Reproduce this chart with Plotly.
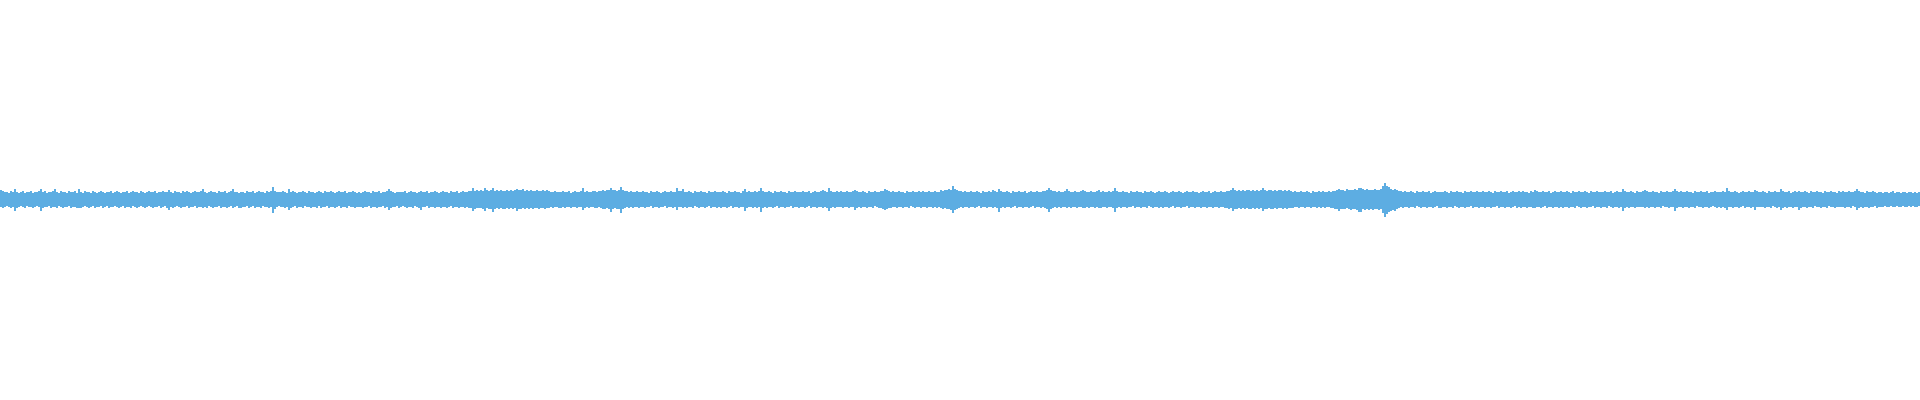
import plotly.graph_objects as go

# Waveform peak envelope, one sample per 2 screen columns.
# upper = peak above the zero line, lower = peak below the zero line (same units as the y axis).
upper = [
    9,8,7,7,6,8,7,10,7,6,7,8,6,7,7,8,6,7,7,8,
    10,7,8,6,7,7,8,10,7,6,8,7,7,6,8,7,7,8,6,10,
    7,6,8,7,7,6,8,7,6,7,8,7,6,7,7,8,6,7,8,7,
    6,7,7,8,6,7,8,7,7,6,8,7,6,7,8,7,7,8,6,7,
    7,8,7,7,9,7,6,8,7,7,6,8,7,8,7,6,7,8,7,7,
    8,10,7,6,7,8,7,7,6,8,7,7,8,6,7,8,10,7,7,6,
    7,7,6,8,7,7,8,6,7,8,7,7,6,8,7,8,12,8,7,7,
    7,8,7,6,10,7,8,7,6,7,7,8,7,6,8,7,7,6,7,8,
    7,6,8,7,7,8,7,6,7,8,7,7,8,6,7,7,8,7,6,7,
    6,7,8,7,7,6,8,7,7,8,6,7,7,8,10,8,7,6,7,7,
    7,7,8,6,7,8,7,7,6,7,8,7,7,8,6,7,7,8,7,6,
    7,8,7,7,6,8,7,7,8,6,7,8,7,7,8,8,11,8,9,8,
    9,8,11,9,8,9,11,8,9,8,9,8,8,9,8,9,8,9,10,9,
    9,10,8,9,8,9,8,8,9,8,8,9,8,9,8,7,7,8,7,7,
    7,8,7,7,8,6,7,8,7,7,8,11,7,8,7,7,8,8,7,8,
    8,9,8,9,9,11,9,9,8,9,12,9,8,8,7,8,7,7,8,7,
    7,8,7,7,6,8,7,7,8,7,6,7,8,7,7,8,7,7,11,8,
    8,10,7,7,8,7,6,8,7,7,8,7,7,6,8,7,7,8,7,7,
    7,8,7,6,8,7,7,8,7,7,6,8,10,7,8,7,7,8,7,8,
    11,8,7,7,8,7,6,8,7,7,8,7,7,6,8,7,7,8,7,7,
    7,8,7,7,8,6,7,8,7,7,8,9,8,7,11,8,7,7,8,7,
    8,7,7,8,7,7,8,9,8,7,7,8,7,6,8,7,7,8,7,7,
    8,8,10,9,8,7,8,7,7,8,7,7,6,8,7,7,8,7,7,8,
    7,8,7,7,8,7,7,8,7,7,9,8,9,9,10,9,13,10,9,8,
    8,7,8,7,7,8,7,7,8,7,6,8,7,7,8,7,9,8,7,10,
    8,7,7,8,7,6,8,7,7,8,7,7,8,6,7,8,7,7,8,7,
    7,8,8,9,11,9,8,8,7,8,7,7,8,10,8,7,7,8,7,7,
    8,9,8,7,7,8,7,7,8,9,7,8,7,7,8,7,8,11,8,7,
    7,8,7,7,6,8,7,7,8,7,7,6,8,7,7,8,7,6,7,8,
    7,7,8,7,6,7,8,7,7,8,7,6,7,8,7,7,8,7,7,6,
    7,8,7,7,8,6,7,8,7,7,8,7,7,8,8,9,11,9,8,9,
    8,9,8,9,9,8,9,8,9,8,9,11,9,8,9,9,8,9,8,9,
    9,8,9,8,9,8,7,8,7,7,8,7,7,8,7,6,8,7,7,8,
    7,8,7,7,8,7,8,8,9,10,9,9,8,10,9,9,9,10,9,11,
    11,10,9,10,9,9,9,10,9,9,10,13,16,13,12,10,9,10,9,8,
    8,7,8,7,7,8,7,6,8,7,7,8,7,7,8,6,7,8,7,7,
    7,7,8,7,6,8,7,7,8,7,7,6,8,7,7,8,7,7,8,7,
    7,8,7,7,8,7,6,8,7,7,8,7,7,8,6,7,8,7,7,8,
    7,8,7,7,6,8,7,9,8,7,7,8,7,7,8,6,7,8,7,7,
    8,7,7,8,7,6,8,7,7,8,7,7,8,7,6,8,7,7,8,7,
    7,7,8,7,7,8,6,7,8,7,7,10,8,7,7,8,7,6,8,7,
    7,8,9,8,7,7,8,7,7,6,8,7,7,8,7,7,8,10,8,7,
    8,7,7,8,7,7,6,8,7,7,8,7,7,8,6,7,7,8,7,7,
    7,8,7,11,8,7,7,8,7,6,7,8,7,7,8,7,7,9,8,7,
    7,8,7,6,8,7,7,8,7,7,10,8,7,7,8,6,7,8,7,8,
    7,7,8,7,6,8,7,7,8,7,7,6,8,7,7,8,7,7,6,8,
    7,8,7,7,8,7,7,8,10,8,7,7,6,8,7,7,8,7,6,7,
    7,6,7,7,6,7,8,6,7,7,6,7,7,6,7,7,6,7,6,7,
]

lower = [
    7,8,7,6,7,8,7,11,8,7,6,7,8,6,7,7,8,7,6,7,
    11,8,7,7,6,8,7,7,8,6,7,8,7,7,6,8,7,7,8,8,
    8,7,6,7,8,7,6,8,7,7,6,8,7,6,8,7,7,6,7,8,
    7,6,8,7,7,8,6,7,8,7,6,7,8,7,6,7,8,7,7,6,
    8,7,6,8,10,7,8,7,6,7,8,7,7,6,8,7,7,6,8,7,
    7,8,7,8,6,7,8,7,7,6,8,7,7,8,7,6,8,7,6,8,
    8,7,7,6,8,7,6,8,7,7,8,6,7,7,8,7,13,9,7,6,
    7,7,8,7,10,8,7,6,8,7,7,8,6,7,7,8,7,7,8,6,
    8,7,7,6,8,7,7,8,7,6,8,7,7,8,6,7,7,8,7,7,
    7,8,7,7,6,8,7,7,8,7,7,6,8,7,10,8,7,7,6,8,
    7,6,7,8,7,7,8,6,7,8,10,7,7,6,8,7,7,8,7,7,
    8,7,7,8,7,6,8,7,7,8,7,7,8,7,8,8,11,9,8,8,
    8,9,11,8,9,9,12,9,8,9,8,9,9,8,9,8,9,8,11,9,
    9,8,9,8,9,8,9,8,8,9,8,8,9,8,8,7,8,7,7,8,
    8,7,8,7,7,8,7,7,8,7,7,10,8,7,8,7,7,8,8,7,
    8,9,9,8,9,12,9,8,9,9,13,9,8,7,8,7,8,7,7,8,
    7,7,8,7,7,6,8,7,7,8,7,7,6,8,7,7,8,7,10,7,
    7,8,7,8,7,7,8,6,7,8,7,7,8,7,6,8,7,7,8,7,
    8,7,7,8,7,6,8,7,7,8,7,7,11,8,7,7,8,7,8,7,
    12,8,7,8,7,7,8,7,6,8,7,7,8,7,7,6,8,7,7,8,
    7,7,8,7,6,8,7,7,8,7,7,8,7,8,11,8,7,8,7,7,
    7,8,7,7,8,7,7,10,8,7,8,7,7,8,7,7,8,6,7,8,
    8,9,10,9,8,8,7,7,8,7,7,8,7,7,8,6,7,8,7,7,
    8,7,7,8,7,7,8,7,8,7,8,9,8,9,9,10,13,10,9,8,
    7,8,7,7,8,7,7,8,7,6,8,7,7,8,7,7,8,7,8,12,
    8,7,8,7,7,8,7,6,8,7,7,8,7,7,8,7,6,8,7,7,
    8,7,8,9,12,9,8,7,8,7,8,7,7,8,7,8,7,7,8,7,
    7,8,8,7,8,7,7,8,7,8,8,7,7,8,7,7,8,12,8,7,
    8,7,7,8,7,7,6,8,7,7,8,7,7,8,6,7,8,7,7,8,
    7,8,7,7,8,7,6,8,7,7,8,7,7,6,8,7,7,8,7,7,
    8,7,7,8,7,7,8,7,7,8,7,7,8,8,9,8,11,9,9,8,
    9,8,9,8,9,9,8,9,8,9,8,11,9,9,8,9,9,8,9,8,
    8,9,8,9,8,8,8,7,7,8,7,7,8,7,7,8,7,7,8,7,
    8,7,8,7,7,8,8,9,9,11,9,9,9,8,9,10,9,9,10,12,
    12,9,10,9,10,9,10,9,9,10,9,13,17,14,12,11,10,11,9,8,
    7,8,7,7,8,7,7,8,6,7,8,7,7,8,7,7,8,7,6,8,
    8,7,7,8,7,7,8,6,7,8,7,7,8,7,7,6,8,7,7,8,
    7,7,8,7,7,8,7,7,6,8,7,7,8,7,7,8,7,6,8,7,
    8,7,7,8,7,7,8,8,7,7,8,7,6,8,7,7,8,7,7,8,
    7,8,7,7,8,7,7,8,6,7,8,7,7,8,7,7,6,8,7,7,
    8,7,7,8,6,7,8,7,7,8,7,11,8,7,8,7,7,8,7,7,
    7,7,8,7,8,7,7,8,7,7,8,6,7,7,8,7,7,11,8,7,
    7,8,7,7,8,7,7,8,6,7,7,8,7,7,8,7,6,7,8,7,
    8,7,8,10,7,7,8,7,7,8,7,6,8,7,7,8,7,10,7,7,
    7,7,8,7,7,8,6,7,8,7,10,8,7,8,7,7,8,7,7,10,
    8,7,7,8,7,7,8,6,7,7,8,7,7,8,6,7,7,8,7,7,
    7,7,8,7,7,8,6,7,10,8,7,8,7,7,8,7,7,6,8,7,
    7,7,6,7,7,6,7,7,6,7,7,6,7,7,6,7,6,7,7,6,
]

sample_index = list(range(len(upper)))
span = [u + l for u, l in zip(upper, lower)]
base = [-l for l in lower]

fig = go.Figure(
    go.Bar(
        x=sample_index,
        y=span,
        base=base,
        marker=dict(color="#5DADE2", line=dict(width=0)),
        hoverinfo="skip",
    )
)

fig.update_layout(
    width=1920,
    height=400,
    margin=dict(l=0, r=0, t=0, b=0),
    paper_bgcolor="white",
    plot_bgcolor="white",
    showlegend=False,
    bargap=0,
    xaxis=dict(visible=False, range=[-0.5, len(upper) - 0.5], fixedrange=True),
    yaxis=dict(visible=False, range=[-193, 192], fixedrange=True),
)

fig.write_html(
    "out.html",
    config={"displayModeBar": False},
    post_script="document.body.style.margin='0';document.body.style.overflow='hidden';",
)
